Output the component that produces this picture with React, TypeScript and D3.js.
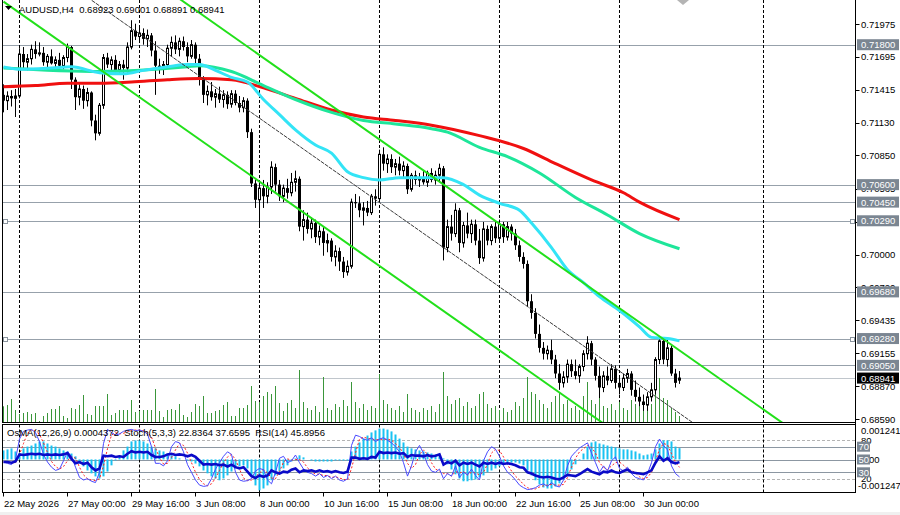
import React from 'react';
import * as d3 from 'd3';

// ---------- DATA (prices in pips: 7137 = 0.71370) ----------
const OPEN = [7137,7132,7136,7134,7136,7172,7165,7168,7176,7172,7173,7165,7170,7164,7167,7162,7169,7178,7150,7135,7142,7132,7139,7115,7104,7128,7169,7163,7167,7158,7163,7160,7178,7192,7187,7190,7185,7188,7175,7162,7160,7163,7177,7182,7176,7183,7178,7170,7180,7168,7150,7137,7140,7135,7138,7133,7137,7129,7138,7130,7126,7132,7105,7061,7047,7057,7050,7058,7075,7060,7050,7057,7053,7062,7065,7024,7030,7022,7027,7015,7020,7010,7012,6998,7003,6994,6985,6990,7045,7044,7038,7040,7036,7050,7048,7086,7078,7082,7075,7078,7072,7076,7056,7068,7064,7066,7062,7070,7064,7068,7074,7006,7024,7018,7038,7010,7025,7018,7026,7012,6997,7022,7012,7024,7014,7026,7015,7024,7018,7008,6998,6992,6960,6950,6932,6920,6915,6918,6910,6898,6890,6895,6906,6900,6896,6904,6915,6924,6910,6896,6886,6896,6892,6902,6890,6886,6894,6898,6884,6878,6874,6871,6878,6884,6910,6926,6910,6920,6898,6892.3];
const HIGH = [7146,7140,7141,7142,7177,7178,7172,7180,7183,7182,7178,7172,7176,7170,7173,7171,7181,7179,7152,7146,7145,7143,7140,7120,7130,7172,7173,7170,7171,7166,7167,7182,7201,7198,7195,7194,7193,7190,7183,7168,7166,7180,7187,7188,7186,7187,7182,7184,7182,7172,7153,7145,7148,7142,7144,7141,7140,7141,7141,7136,7135,7134,7108,7064,7062,7064,7062,7080,7078,7064,7060,7065,7070,7072,7067,7038,7036,7032,7030,7025,7024,7018,7014,7008,7006,6998,6995,7048,7052,7050,7045,7046,7052,7056,7090,7092,7086,7086,7082,7084,7080,7078,7070,7072,7070,7072,7072,7074,7072,7078,7076,7030,7034,7044,7040,7028,7036,7030,7030,7022,7028,7025,7026,7028,7030,7028,7028,7026,7022,7012,7002,6995,6966,6954,6940,6925,6922,6927,6914,6906,6900,6910,6910,6910,6906,6918,6930,6926,6912,6904,6900,6904,6906,6905,6896,6898,6902,6900,6892,6886,6880,6882,6890,6912,6930,6928,6928,6922,6902,6900.1];
const LOW = [7122,7124,7127,7118,7134,7160,7158,7163,7168,7170,7162,7160,7163,7158,7160,7159,7165,7142,7124,7128,7125,7127,7110,7098,7102,7125,7160,7158,7154,7155,7150,7156,7176,7184,7182,7180,7178,7170,7137,7155,7154,7160,7170,7172,7170,7175,7165,7168,7164,7145,7130,7128,7132,7126,7130,7126,7125,7126,7128,7122,7122,7100,7058,7040,7023,7040,7044,7052,7054,7046,7045,7048,7050,7054,7020,7012,7018,7014,7010,7008,6999,7002,6994,6990,6986,6980,6982,6988,7040,7032,7025,7033,7034,7042,7046,7072,7070,7070,7068,7068,7066,7052,7054,7060,7058,7060,7058,7062,7060,7062,6995,7002,7012,7015,7002,7006,7014,7010,7008,6992,6994,7008,7008,7010,7010,7010,7012,7012,7004,6994,6988,6955,6945,6928,6916,6910,6910,6906,6894,6884,6886,6890,6895,6893,6890,6900,6910,6905,6892,6877,6882,6888,6890,6885,6880,6883,6890,6879,6874,6870,6866,6866,6874,6880,6906,6906,6904,6896,6886,6889.1];
const CLOSE = [7132,7136,7134,7136,7172,7165,7168,7176,7172,7173,7165,7170,7164,7167,7162,7169,7178,7150,7135,7142,7132,7139,7115,7104,7128,7169,7163,7167,7158,7163,7160,7178,7192,7187,7190,7185,7188,7175,7162,7160,7163,7177,7182,7176,7183,7178,7170,7180,7168,7150,7137,7140,7135,7138,7133,7137,7129,7138,7130,7126,7132,7105,7061,7047,7057,7050,7058,7075,7060,7050,7057,7053,7062,7065,7024,7030,7022,7027,7015,7020,7010,7012,6998,7003,6994,6985,6990,7045,7044,7038,7040,7036,7050,7048,7086,7078,7082,7075,7078,7072,7076,7056,7068,7064,7066,7062,7070,7064,7068,7074,7006,7024,7018,7038,7010,7025,7018,7026,7012,6997,7022,7012,7024,7014,7026,7015,7024,7018,7008,6998,6992,6960,6950,6932,6920,6915,6918,6910,6898,6890,6895,6906,6900,6896,6904,6915,6924,6910,6896,6886,6896,6892,6902,6890,6886,6894,6898,6884,6878,6874,6871,6878,6884,6910,6926,6910,6920,6898,6890,6894.1];
const VOLUME = [1570,1700,2300,1200,800,900,1000,800,900,100,600,900,1300,1300,1600,600,400,1400,1300,1700,2700,800,700,1600,1600,1600,2800,700,900,1200,1200,1200,2200,1000,1100,1200,1200,1200,3300,1100,500,1200,1300,1200,1800,700,500,1000,1800,1600,2600,900,900,1100,1200,1700,2000,600,600,1400,1400,1700,3600,2100,2000,2600,3000,2800,3600,1900,1100,1900,2200,1400,5200,2000,1400,1200,1600,1000,4500,1400,1200,1800,1500,2200,1600,4000,2000,1400,1800,1200,1600,1400,4800,2200,1800,1400,1200,1600,1000,2800,1400,1200,1000,1400,1200,1600,1000,1800,5000,2600,1800,2200,2400,1600,2000,1400,1600,2800,3000,1800,1400,1600,1200,1400,1000,1200,2000,1600,2400,4500,3000,2800,2200,1800,1400,2000,2600,3000,1800,2200,1400,1600,1200,2600,4000,2200,1800,3000,1600,1400,1800,1200,2000,1400,1200,2200,1800,1600,2400,1400,1800,3400,4400,2400,2200,1400,1000,600];

// moving averages: [bar index, price in pips]
const MA_FAST = [[0,7161],[4,7159],[12,7160],[17,7161],[24,7156],[30,7155],[35,7158],[41,7161],[46,7163],[49,7163],[53,7158],[57,7152],[61,7148],[65,7133],[69,7120],[73,7107],[78,7094],[82,7087],[86,7071],[90,7066],[94,7064],[99,7066],[107,7066],[110,7066],[115,7060],[119,7051],[124,7044],[129,7038],[132,7027],[137,7006],[141,6987],[145,6976],[149,6964],[154,6952],[159,6938],[162,6929],[166,6928],[169,6926]];
const MA_MID = [[0,7160],[24,7157],[46,7161],[49,7162],[57,7157],[65,7145],[73,7133],[82,7122],[90,7115],[98,7112],[107,7108],[111,7105],[119,7092],[126,7084],[134,7070],[143,7049],[151,7034],[159,7018],[169,7005]];
const MA_SLOW = [[0,7144],[8,7145],[16,7147],[24,7147],[32,7148],[41,7150],[49,7151],[57,7150],[65,7143],[73,7134],[82,7124],[90,7118],[98,7115],[107,7111],[119,7102],[130,7091],[138,7078],[147,7064],[155,7053],[159,7045],[169,7030]];

// trend channel: [bar index, price in pips]
const CHANNEL_LOWER = [[0,7217],[160,6831]];
const CHANNEL_UPPER = [[0,7325.5],[200,6843]];
const CHANNEL_MID = [[20,7223],[176,6847]];

const LEVELS = [7180, 7060, 7045, 7029, 6968, 6928, 6905];
const LAST_PRICE = 6894.1;
const PRICE_TICKS = [7197.5, 7169.5, 7141.5, 7113, 7085, 7056.5, 7028, 7000, 6972, 6943.5, 6915.5, 6887, 6859];
const MARKER_LEVELS = [7029, 6928];

const SEPARATORS = [4, 34, 64, 94, 124, 154, 190];
const TIME_LABELS = ['22 May 2026','27 May 00:00','29 May 16:00','3 Jun 08:00','8 Jun 00:00','10 Jun 16:00','15 Jun 08:00','18 Jun 00:00','22 Jun 16:00','25 Jun 08:00','30 Jun 00:00'];
const TIME_LABEL_BARS = [0,16,32,48,64,80,96,112,128,144,160];

// OsMA in units of 1e-5
const OSMA = [35,39,43,31,23,43,50,54,62,70,70,62,54,50,43,35,31,23,12,-16,-27,-43,-54,-66,-74,-66,-47,-23,-4,16,35,50,70,74,74,70,62,50,43,35,31,23,16,12,4,0,-4,-8,-16,-27,-43,-54,-66,-74,-81,-74,-62,-47,-35,-27,-23,-35,-66,-101,-120,-113,-101,-81,-62,-47,-35,-23,-8,4,16,8,0,-4,-8,-8,-8,-8,-8,-4,-4,-4,-4,31,50,66,81,93,105,113,120,120,116,109,97,81,66,50,43,39,35,31,27,23,19,16,4,-19,-39,-58,-74,-85,-85,-81,-78,-70,-62,-50,-43,-35,-27,-19,-16,-12,-12,-16,-23,-43,-62,-81,-97,-109,-113,-113,-105,-93,-78,-58,-39,-19,-4,23,50,66,70,62,58,54,50,47,43,39,39,35,31,23,16,19,23,39,62,74,74,70,50,44];
const RSI = [46,46,45,47,58,57,58,59,58,59,57,58,57,58,57,58,60,51,44,46,43,45,38,33,36,56,55,56,54,55,54,59,63,61,62,61,62,57,54,54,55,58,59,57,58,57,55,57,54,48,42,43,42,43,41,42,39,42,38,36,38,31,24,21,25,23,25,33,30,28,31,30,34,36,30,33,32,33,31,33,31,32,30,32,30,29,31,53,53,51,52,51,54,53,62,60,61,60,61,59,60,54,57,56,56,55,57,55,56,58,42,46,44,48,41,45,43,45,42,39,45,43,45,43,45,43,44,43,41,38,37,30,28,25,23,22,23,22,20,19,22,26,25,24,27,31,35,31,29,27,31,30,33,30,29,32,34,30,29,28,27,30,33,45,55,48,52,46,44,45.9];
const STOCH_MAIN = [46,44,42,50,82,94,96,97,92,78,58,46,38,33,35,48,62,55,38,22,18,20,16,14,30,75,97,92,88,90,94,96,97,95,96,94,90,70,44,44,40,48,70,78,76,62,42,30,18,10,8,9,20,35,45,55,62,58,30,18,16,17,20,32,36,34,18,12,30,52,55,45,48,57,45,35,30,28,24,28,22,25,20,24,18,16,20,72,88,86,82,80,84,78,82,84,80,76,70,62,45,24,40,62,72,60,42,32,30,35,20,28,24,40,22,30,26,35,25,18,48,62,70,66,55,40,30,25,18,10,6,3,4,6,10,12,8,14,9,7,18,40,55,62,68,72,76,60,45,30,40,32,48,54,36,32,38,28,22,20,18,28,45,70,82,72,65,40,28,22.8];
const STOCH_SIGNAL = [46,45,44,45,58,75,91,96,95,89,76,61,47,39,35,39,48,55,52,38,26,20,18,17,20,40,67,88,92,90,91,93,96,96,96,95,93,85,68,53,43,44,53,65,75,72,60,45,30,19,12,9,12,21,33,45,54,58,50,35,21,17,18,23,29,34,29,21,20,31,46,51,49,50,50,46,37,31,27,27,25,25,22,23,21,19,18,36,60,82,85,83,82,81,81,81,82,80,75,69,59,44,36,42,58,65,58,45,35,32,28,28,24,31,29,31,26,30,29,26,30,43,60,66,64,54,42,32,24,18,11,6,4,4,7,9,10,11,10,10,11,22,38,52,62,67,72,69,60,45,38,34,40,45,46,41,35,33,29,23,20,22,30,48,66,75,73,59,46,37.7];

// ---------- LAYOUT ----------
const FONT = "'Liberation Sans', Arial, sans-serif";
const AXIS_X = 855.5;
const MAIN_BOTTOM = 422.5;
const IND_TOP = 424.5;
const IND_BOTTOM = 492.5;

export default function App() {
  const n = CLOSE.length;
  const x = d3.scaleLinear().domain([0, n - 1]).range([3, 3 + 4 * (n - 1)]);
  const y = d3.scaleLinear().domain([7197.5, 6859]).range([24.3, 419]);
  const vol = d3.scaleLinear().domain([0, 6000]).range([422, 362]);
  const yInd = d3.scaleLinear().domain([0, 100]).range([491.5, 427.5]);
  const yOsma = d3.scaleLinear().domain([-124.7, 124.18]).range([491.5, 427.5]);

  const maLine = d3.line<number[]>().x(d => x(d[0]) + 0.5).y(d => y(d[1])).curve(d3.curveMonotoneX);
  const straight = d3.line<number[]>().x(d => x(d[0]) + 0.5).y(d => y(d[1]));
  const indLine = (arr: number[]) => d3.line<number>().x((_, i) => x(i) + 0.5).y(v => yInd(v))(arr) || '';

  const fmt = (p: number) => (p / 10000).toFixed(5);

  return (
    <div style={{ position: 'fixed', left: 0, top: 0 }}>
      <svg width={900} height={515} style={{ display: 'block', background: '#fff' }} fontFamily={FONT}>
        <defs>
          <clipPath id="mainClip"><rect x={2} y={0} width={AXIS_X - 2} height={MAIN_BOTTOM} /></clipPath>
          <clipPath id="indClip"><rect x={2} y={IND_TOP} width={AXIS_X - 2} height={IND_BOTTOM - IND_TOP} /></clipPath>
        </defs>
        <rect x={0} y={0} width={900} height={515} fill="#fff" />
        <rect x={0} y={512} width={900} height={3} fill="#f0f0f0" />

        {/* ---- main panel ---- */}
        <g clipPath="url(#mainClip)">
          {LEVELS.map((l, i) => (
            <line key={'lv' + i} x1={2} x2={AXIS_X} y1={Math.round(y(l)) + 0.5} y2={Math.round(y(l)) + 0.5} stroke="#97a1ab" strokeWidth={1} />
          ))}
          <line x1={2} x2={AXIS_X} y1={Math.round(y(LAST_PRICE)) + 0.5} y2={Math.round(y(LAST_PRICE)) + 0.5} stroke="#c0c6cc" strokeWidth={1} />
          {SEPARATORS.map((b, i) => (
            <line key={'sp' + i} x1={x(b) + 0.5} x2={x(b) + 0.5} y1={0} y2={MAIN_BOTTOM} stroke="#000" strokeWidth={1} strokeDasharray="3,2" />
          ))}
          {VOLUME.map((v, i) => (
            <line key={'vo' + i} x1={x(i) + 0.5} x2={x(i) + 0.5} y1={422} y2={vol(v)} stroke="#3a963a" strokeWidth={1} />
          ))}
          {CLOSE.map((c, i) => {
            const o = OPEN[i];
            const xc = Math.round(x(i));
            const top = y(Math.max(o, c));
            const bot = y(Math.min(o, c));
            const h = Math.max(1, bot - top);
            const bull = c >= o;
            return (
              <g key={'c' + i}>
                <line x1={xc + 0.5} x2={xc + 0.5} y1={y(HIGH[i])} y2={y(LOW[i])} stroke="#000" strokeWidth={1} />
                {bull ? (
                  <rect x={xc - 0.5} y={top} width={2} height={h} fill="#fff" stroke="#000" strokeWidth={1} />
                ) : (
                  <rect x={xc - 1} y={top} width={3} height={h} fill="#000" />
                )}
              </g>
            );
          })}
          <path d={maLine(MA_SLOW) || ''} fill="none" stroke="#f01010" strokeWidth={3} />
          <path d={maLine(MA_MID) || ''} fill="none" stroke="#1ee69a" strokeWidth={3} />
          <path d={maLine(MA_FAST) || ''} fill="none" stroke="#33e4f6" strokeWidth={3} />
          <path d={straight(CHANNEL_LOWER) || ''} fill="none" stroke="#22e01a" strokeWidth={2} />
          <path d={straight(CHANNEL_UPPER) || ''} fill="none" stroke="#22e01a" strokeWidth={2} />
          <path d={straight(CHANNEL_MID) || ''} fill="none" stroke="#3a3a3a" strokeWidth={1} strokeDasharray="4,1" />
          <polygon points="677,0 683,5 689,0" fill="#b4b4b4" />
        </g>
        {MARKER_LEVELS.map((l, i) => (
          <g key={'mk' + i}>
            <rect x={3.5} y={Math.round(y(l)) - 1.5} width={4} height={4} fill="#fff" stroke="#8a949e" />
            <rect x={850.5} y={Math.round(y(l)) - 1.5} width={4} height={4} fill="#fff" stroke="#8a949e" />
          </g>
        ))}
        {/* title */}
        <polygon points="5,6 12,6 8.5,10" fill="#000" />
        <text x={19} y={13} fontSize={9.5} fill="#000" style={{ whiteSpace: 'pre' }}>
          {'AUDUSD,H4  ' + [OPEN[n - 1], HIGH[n - 1], LOW[n - 1], CLOSE[n - 1]].map(fmt).join(' ')}
        </text>

        {/* ---- indicator panel ---- */}
        <g clipPath="url(#indClip)">
          {[80, 20].map(v => (
            <line key={'dl' + v} x1={2} x2={AXIS_X} y1={Math.round(yInd(v)) + 0.5} y2={Math.round(yInd(v)) + 0.5} stroke="#b4b4b4" strokeDasharray="3,2" />
          ))}
          {[70, 50, 30].map(v => (
            <line key={'sl' + v} x1={2} x2={AXIS_X} y1={Math.round(yInd(v)) + 0.5} y2={Math.round(yInd(v)) + 0.5} stroke="#8c97a2" />
          ))}
          {SEPARATORS.map((b, i) => (
            <line key={'sp2' + i} x1={x(b) + 0.5} x2={x(b) + 0.5} y1={IND_TOP} y2={IND_BOTTOM} stroke="#000" strokeWidth={1} strokeDasharray="3,2" />
          ))}
          {OSMA.map((v, i) => {
            const y0 = yOsma(0);
            const y1 = yOsma(v);
            return <rect key={'os' + i} x={Math.round(x(i)) - 0.5} y={Math.min(y0, y1)} width={2} height={Math.abs(y1 - y0)} fill="#18c2f2" />;
          })}
          <path d={indLine(STOCH_SIGNAL)} fill="none" stroke="#ff2020" strokeWidth={1} strokeDasharray="2,2" />
          <path d={indLine(STOCH_MAIN)} fill="none" stroke="#4848ff" strokeWidth={1} />
          <path d={indLine(RSI)} fill="none" stroke="#0a0ac8" strokeWidth={2.6} />
          <text x={7} y={436} fontSize={9.5} fill="#000" style={{ whiteSpace: 'pre' }}>
            {'OsMA(12,26,9) 0.0004372  Stoch(5,3,3) 22.8364 37.6595  RSI(14) 45.8956'}
          </text>
        </g>

        {/* panel borders */}
        <line x1={2.5} x2={2.5} y1={0} y2={MAIN_BOTTOM} stroke="#000" />
        <line x1={2} x2={AXIS_X} y1={MAIN_BOTTOM} y2={MAIN_BOTTOM} stroke="#000" />
        <rect x={2.5} y={IND_TOP} width={AXIS_X - 2.5} height={IND_BOTTOM - IND_TOP} fill="none" stroke="#000" />
        <line x1={AXIS_X} x2={AXIS_X} y1={0} y2={IND_BOTTOM} stroke="#000" />

        {/* price axis */}
        {PRICE_TICKS.map((p, i) => (
          <g key={'pt' + i}>
            <line x1={AXIS_X} x2={AXIS_X + 4} y1={Math.round(y(p)) + 0.5} y2={Math.round(y(p)) + 0.5} stroke="#000" />
            <text x={861} y={y(p) + 3.5} fontSize={9.5} fill="#000">{fmt(p)}</text>
          </g>
        ))}
        {LEVELS.map((l, i) => (
          <g key={'lb' + i}>
            <rect x={857} y={y(l) - 5.5} width={42} height={11} fill="#7b8692" />
            <text x={861} y={y(l) + 3.5} fontSize={9.5} fill="#fff">{fmt(l)}</text>
          </g>
        ))}
        <rect x={857} y={y(LAST_PRICE) - 5.5} width={42} height={11} fill="#000" />
        <text x={861} y={y(LAST_PRICE) + 3.5} fontSize={9.5} fill="#fff">{fmt(LAST_PRICE)}</text>

        {/* indicator axis */}
        <text x={861} y={434} fontSize={9.5} fill="#000">0.0012418</text>
        <text x={861} y={yInd(80) + 3.5} fontSize={9.5} fill="#000">80</text>
        <text x={861} y={yInd(20) + 3.5} fontSize={9.5} fill="#000">20</text>
        <text x={861} y={yInd(50) + 3.5} fontSize={9.5} fill="#000">0.00</text>
        {[70, 50, 30].map(v => (
          <g key={'il' + v}>
            <rect x={857} y={yInd(v) - 5} width={13} height={10} fill="#7b8692" />
            <text x={858.5} y={yInd(v) + 3.5} fontSize={9.5} fill="#fff">{v}</text>
          </g>
        ))}
        <text x={858} y={489} fontSize={9.5} fill="#000">-0.001247</text>

        {/* time axis */}
        {TIME_LABEL_BARS.map((b, i) => (
          <g key={'tl' + i}>
            <line x1={x(b) + 0.5} x2={x(b) + 0.5} y1={IND_BOTTOM} y2={IND_BOTTOM + 4} stroke="#000" />
            <text x={x(b) + 1} y={507} fontSize={9.5} fill="#000">{TIME_LABELS[i]}</text>
          </g>
        ))}
      </svg>
    </div>
  );
}
